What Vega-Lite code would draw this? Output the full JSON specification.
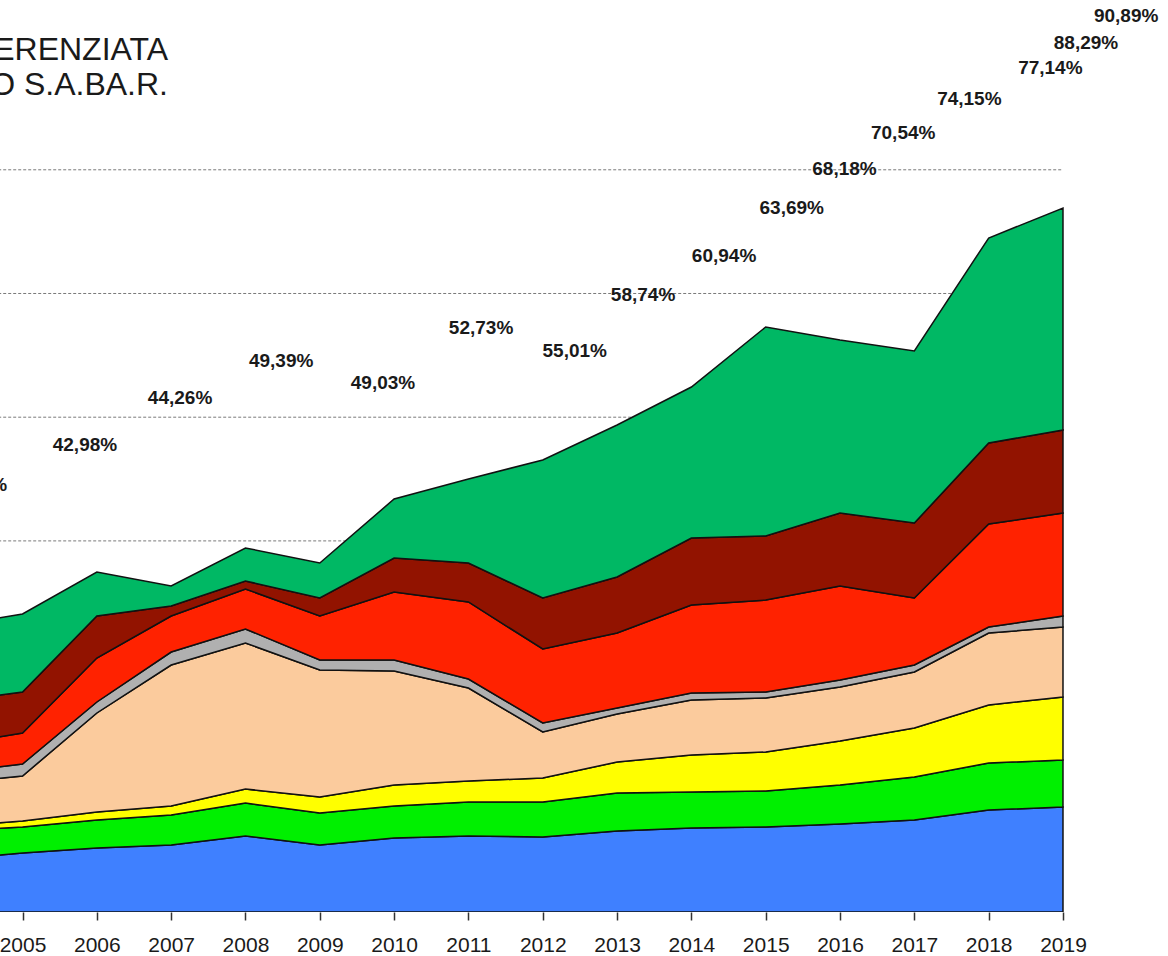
{
  "$schema": "https://vega.github.io/schema/vega-lite/v6.json",
  "width": 1168,
  "height": 912,
  "autosize": {"type": "none"},
  "padding": {"left": 0, "top": 0, "right": 0, "bottom": 44},
  "background": "white",
  "config": {"view": {"stroke": null}, "font": "Liberation Sans"},
  "title": {
    "text": ["RACCOLTA DIFFERENZIATA", "TERRITORIO S.A.BA.R."],
    "anchor": "start",
    "frame": "group",
    "align": "right",
    "baseline": "alphabetic",
    "dx": 168,
    "dy": 127,
    "offset": 0,
    "fontSize": 32,
    "fontWeight": "normal",
    "font": "Liberation Sans",
    "color": "#1a1a1a",
    "lineHeight": 35
  },
  "datasets": {
    "areas": [
      {"anno": 2004, "Serie 1": 4228, "Serie 2": 2296, "Serie 3": 372, "Serie 4": 3476, "Serie 5": 865, "Serie 6": 2239, "Serie 7": 3500, "Serie 8": 6120},
      {"anno": 2005, "Serie 1": 4770, "Serie 2": 2102, "Serie 3": 485, "Serie 4": 3638, "Serie 5": 970, "Serie 6": 2506, "Serie 7": 3314, "Serie 8": 6306},
      {"anno": 2006, "Serie 1": 5174, "Serie 2": 2264, "Serie 3": 647, "Serie 4": 8003, "Serie 5": 889, "Serie 6": 3557, "Serie 7": 3395, "Serie 8": 3557},
      {"anno": 2007, "Serie 1": 5416, "Serie 2": 2425, "Serie 3": 728, "Serie 4": 11398, "Serie 5": 1051, "Serie 6": 2910, "Serie 7": 808, "Serie 8": 1617},
      {"anno": 2008, "Serie 1": 6144, "Serie 2": 2668, "Serie 3": 1132, "Serie 4": 11803, "Serie 5": 1132, "Serie 6": 3234, "Serie 7": 647, "Serie 8": 2668},
      {"anno": 2009, "Serie 1": 5416, "Serie 2": 2587, "Serie 3": 1293, "Serie 4": 10267, "Serie 5": 808, "Serie 6": 3557, "Serie 7": 1455, "Serie 8": 2829},
      {"anno": 2010, "Serie 1": 5982, "Serie 2": 2587, "Serie 3": 1698, "Serie 4": 9216, "Serie 5": 889, "Serie 6": 5497, "Serie 7": 2749, "Serie 8": 4770},
      {"anno": 2011, "Serie 1": 6144, "Serie 2": 2749, "Serie 3": 1698, "Serie 4": 7518, "Serie 5": 728, "Serie 6": 6225, "Serie 7": 3153, "Serie 8": 6791},
      {"anno": 2012, "Serie 1": 6063, "Serie 2": 2829, "Serie 3": 1940, "Serie 4": 3719, "Serie 5": 728, "Serie 6": 5982, "Serie 7": 4123, "Serie 8": 11156},
      {"anno": 2013, "Serie 1": 6548, "Serie 2": 3072, "Serie 3": 2506, "Serie 4": 3880, "Serie 5": 485, "Serie 6": 6063, "Serie 7": 4527, "Serie 8": 12288},
      {"anno": 2014, "Serie 1": 6791, "Serie 2": 2910, "Serie 3": 2991, "Serie 4": 4446, "Serie 5": 566, "Serie 6": 7114, "Serie 7": 5416, "Serie 8": 12207},
      {"anno": 2015, "Serie 1": 6871, "Serie 2": 2910, "Serie 3": 3153, "Serie 4": 4365, "Serie 5": 485, "Serie 6": 7437, "Serie 7": 5174, "Serie 8": 16896},
      {"anno": 2016, "Serie 1": 7114, "Serie 2": 3153, "Serie 3": 3557, "Serie 4": 4365, "Serie 5": 566, "Serie 6": 7599, "Serie 7": 5901, "Serie 8": 13985},
      {"anno": 2017, "Serie 1": 7437, "Serie 2": 3476, "Serie 3": 3961, "Serie 4": 4527, "Serie 5": 566, "Serie 6": 5416, "Serie 7": 6063, "Serie 8": 13904},
      {"anno": 2018, "Serie 1": 8246, "Serie 2": 3799, "Serie 3": 4689, "Serie 4": 5820, "Serie 5": 485, "Serie 6": 8327, "Serie 7": 6548, "Serie 8": 16572},
      {"anno": 2019, "Serie 1": 8488, "Serie 2": 3799, "Serie 3": 5093, "Serie 4": 5659, "Serie 5": 889, "Serie 6": 8327, "Serie 7": 6710, "Serie 8": 17947}
    ],
    "labels": [
      {"pos": 2004.36, "alt": 34519, "etichetta": "41,27%"},
      {"pos": 2005.84, "alt": 37753, "etichetta": "42,98%"},
      {"pos": 2007.12, "alt": 41552, "etichetta": "44,26%"},
      {"pos": 2008.48, "alt": 44543, "etichetta": "49,39%"},
      {"pos": 2009.85, "alt": 42765, "etichetta": "49,03%"},
      {"pos": 2011.17, "alt": 47211, "etichetta": "52,73%"},
      {"pos": 2012.43, "alt": 45352, "etichetta": "55,01%"},
      {"pos": 2013.35, "alt": 49879, "etichetta": "58,74%"},
      {"pos": 2014.44, "alt": 53032, "etichetta": "60,94%"},
      {"pos": 2015.35, "alt": 56912, "etichetta": "63,69%"},
      {"pos": 2016.06, "alt": 60065, "etichetta": "68,18%"},
      {"pos": 2016.85, "alt": 62975, "etichetta": "70,54%"},
      {"pos": 2017.74, "alt": 65724, "etichetta": "74,15%"},
      {"pos": 2018.83, "alt": 68230, "etichetta": "77,14%"},
      {"pos": 2019.31, "alt": 70251, "etichetta": "88,29%"},
      {"pos": 2019.85, "alt": 72433, "etichetta": "90,89%"}
    ],
    "grid": [
      {"t": 10000}, {"t": 20000}, {"t": 30000}, {"t": 40000}, {"t": 50000}, {"t": 60000}
    ]
  },
  "layer": [
    {
      "data": {"name": "grid"},
      "mark": {"type": "rule", "strokeDash": [3, 2], "color": "#7a7a7a", "strokeWidth": 1, "clip": true},
      "encoding": {
        "y": {"field": "t", "type": "quantitative", "scale": {"domain": [0, 73726], "nice": false, "zero": true}, "axis": null},
        "x": {"datum": 2004, "type": "quantitative", "scale": {"domain": [2004.697, 2020.413], "nice": false, "zero": false}},
        "x2": {"datum": 2019}
      }
    },
    {
      "data": {"name": "areas"},
      "transform": [
        {"fold": ["Serie 1", "Serie 2", "Serie 3", "Serie 4", "Serie 5", "Serie 6", "Serie 7", "Serie 8"], "as": ["serie", "t"]}
      ],
      "mark": {"type": "area", "stroke": "#111111", "strokeWidth": 1.5, "clip": true, "opacity": 1},
      "encoding": {
        "x": {
          "field": "anno",
          "type": "quantitative",
          "scale": {"domain": [2004.697, 2020.413], "nice": false, "zero": false},
          "axis": {
            "values": [2005, 2006, 2007, 2008, 2009, 2010, 2011, 2012, 2013, 2014, 2015, 2016, 2017, 2018, 2019],
            "format": "d",
            "title": null,
            "grid": false,
            "domain": false,
            "labelFont": "Liberation Sans",
            "labelFontSize": 21,
            "labelColor": "#1a1a1a",
            "labelPadding": 14,
            "labelFlush": false,
            "labelOverlap": false,
            "tickSize": 8,
            "tickColor": "#333333",
            "tickWidth": 1.5
          }
        },
        "y": {"field": "t", "type": "quantitative", "stack": "zero", "scale": {"domain": [0, 73726], "nice": false, "zero": true}, "axis": null},
        "color": {
          "field": "serie",
          "type": "nominal",
          "scale": {
            "domain": ["Serie 1", "Serie 2", "Serie 3", "Serie 4", "Serie 5", "Serie 6", "Serie 7", "Serie 8"],
            "range": ["#3f80ff", "#00f000", "#ffff00", "#fbcb9d", "#b0b0b0", "#ff2200", "#921300", "#00b864"]
          },
          "legend": null
        },
        "order": {"field": "serie", "type": "nominal", "sort": "ascending"}
      }
    },
    {
      "mark": {"type": "rule", "color": "#222222", "strokeWidth": 2},
      "encoding": {
        "x": {"datum": 2004.697, "type": "quantitative"},
        "x2": {"datum": 2019},
        "y": {"datum": 0, "type": "quantitative"}
      }
    },
    {
      "data": {"name": "labels"},
      "mark": {"type": "text", "font": "Liberation Sans", "fontWeight": "bold", "fontSize": 19, "color": "#1a1a1a", "baseline": "middle", "align": "center"},
      "encoding": {
        "x": {"field": "pos", "type": "quantitative"},
        "y": {"field": "alt", "type": "quantitative"},
        "text": {"field": "etichetta"}
      }
    }
  ]
}
